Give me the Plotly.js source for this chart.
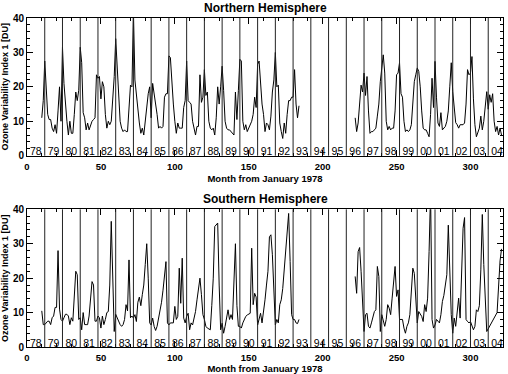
<!DOCTYPE html>
<html><head><meta charset="utf-8">
<script src="https://cdn.plot.ly/plotly-3.0.1.min.js"></script>
<style>html,body{margin:0;padding:0;background:#fff}#chart{width:508px;height:374px}</style>
</head><body><div id="chart"></div>
<script>
// Year labels (inside the plots) and their start months
const yearLabels = ['78','79','80','81','82','83','84','85','86','87','88','89','90','91','92','93','94','95','96','97','98','99','00','01','02','03','04'];
const yearStartMonths = [0,12,24,36,48,60,72,84,96,108,120,132,144,156,168,180,192,204,216,228,240,252,264,276,288,300,312];

// Northern Hemisphere, segment 1 (TOMS Nimbus-7), starts at month 10
const nhStart1 = 10;
const nhValues1 = [11,16,27.5,20,12,10.5,10.5,8,7,9,6.5,13,20,10,
31.5,21,14,10,6,10,6.5,6.5,12,18.5,16,19,
31.5,27,12.5,11,7.5,9.5,7.5,9,10,10.5,11,23.5,
22.5,23,16.5,21.5,20,12,8,10,9,10,17,23,
34,25,15,10,8,7,7.5,7,7,15,20.5,20,
42,22,17.5,12.5,9.5,6.5,8,6,10,15,18,20,
11,21,18,16.5,12,8,8.5,8,8.5,17,18,18,
29,28.5,20,15,10,6.5,9.5,8,8,8,14,16,
27.5,16,15.5,15,10,8,6,8.5,8.5,23.5,15.5,17,
25,17.5,18.5,10,8,7.5,8,6,11,20,15,20,
26,19,10,8,7.5,7.5,7,6.5,6,18.5,10.5,19,
28,27.5,10,7.5,9,7,8,9,10,12,17,14,
26.5,27.5,21,15,12,7,9.5,9,7.5,11.5,18.5,22,
30,20,20.5,9.5,7,5,9.5,6.5,12,16,16,17,
17,25,15,11,14.5];
// Northern Hemisphere, segment 2 (Earth Probe TOMS), starts at month 222
const nhStart2 = 222;
const nhValues2 = [11,7,9.5,15,20.5,18.5,
24,17.5,23,13,6.5,7,7,7.5,8,11.5,15,21.5,
26,29.3,24,10,7.5,8.5,7.5,8,8,13,23.5,24,
27,18,17,10,7,7.5,7,7.5,9,14.5,21.5,23.5,
25.5,24.5,20,13,8,7.5,7.5,6.5,5.5,12,22.5,14,
27.4,17,9.5,8.5,12.5,7.5,8,8.5,10,13,20,27,
18.6,13,9.6,9,8,9,9,9,9.5,15,25,23.5,
24,28.8,16.5,9,5.5,6.5,8,11.5,7.5,10,14.8,18.6,
13.5,17.7,15.5,18,10,7,8.5,6,8,6];

// Southern Hemisphere, segment 1, starts at month 10
const shStart1 = 10;
const shValues1 = [10.5,6.5,
6.5,7,7.5,7.5,6.5,8.5,9,11.5,11.5,28,11,8,
7.5,8.5,9.5,9.5,9,6.5,8.5,7.5,16,22,21,8,
8.5,5,10,6.5,6.5,6.5,9,14,19,18,7.5,7.5,
9,8.5,5.5,9,6.5,8,10,10.3,18,36.5,18,4.5,
9.5,8.5,7,6.5,6,6.5,8,12.3,10.5,25.3,8.5,9,
8.4,9.4,7.4,13,14.5,12,15.2,18,24,30,20,7,
6.4,8.4,6,4.8,6,8,10.3,13,16.5,20.5,24.8,7,
6.4,7,7,7,11.8,8,8.9,22.9,12.7,25.8,8.4,7,
8.9,9.8,5,7,6.4,8,10.3,13.7,17,20,15.2,9.4,
8,6,5.5,5.2,5,12,20,35,35.5,36,18,5,
6.9,4,6,9,10.8,8,9.4,8,18.5,30,12,6,
6,5.5,7,8,8.9,9.3,9.6,9.8,28.7,12.3,15.6,14.5,
6.4,8,9.8,7,10,13.7,18,22,32,32.6,26.8,14,
6.4,8,7,12.3,13.7,17,22,28.7,33,38.8,24.8,9.4,
8,8,7,6.8,8];
// Southern Hemisphere, segment 2, months 222-311
const shStart2 = 222;
const shValues2 = [20.5,15.6,27.7,28.9,22,12,
4.5,9.4,9.8,6,5.5,7,8.4,10.3,10.8,23.4,20.5,4.5,
9.4,7.5,6,8,12.3,11.3,9.4,14.2,19,23.4,14.7,16.6,
8,8,8,5.5,4,6,7,9.4,17,22.9,21.4,15.2,
7,10.3,9.5,8.9,7.4,12.3,10.3,14.2,27.7,45,8,5.5,
6.4,8,7.5,7,9.4,13.2,15,18,21,35.4,18,9.4,
4,8.4,6,10.3,14.2,8.4,20,34.5,37.6,8,7.4,7,
7.4,6.4,5,6,10.8,10.3,12,22.4,38.5,24,11.3,4.5];
// Southern Hemisphere, segment 3, months 318-321
const shStart3 = 318;
const shValues3 = [10,18,25,28.5];

function seg(start, vals){ return {x: vals.map((v,i)=>start+i), y: vals.slice()}; }
function joinSegs(segs, connect){
  const x=[], y=[];
  segs.forEach((s,k)=>{ if(k>0 && !connect[k-1]){x.push(null);y.push(null);} x.push(...s.x); y.push(...s.y); });
  return {x,y};
}
const nh = joinSegs([seg(nhStart1,nhValues1), seg(nhStart2,nhValues2)], [false]);
const sh = joinSegs([seg(shStart1,shValues1), seg(shStart2,shValues2), seg(shStart3,shValues3)], [false,true]);

const FONT = 'Liberation Sans, Arial, Helvetica, sans-serif';
const yearMid = yearStartMonths.map(m=>m+6);
const yearLabelY = yearLabels.map(()=>0.9);

const traces = [
  {x:nh.x, y:nh.y, type:'scatter', mode:'lines', line:{color:'#000', width:1}, xaxis:'x', yaxis:'y', hoverinfo:'skip'},
  {x:sh.x, y:sh.y, type:'scatter', mode:'lines', line:{color:'#000', width:1}, xaxis:'x2', yaxis:'y2', hoverinfo:'skip'},
  {x:yearMid, y:yearLabelY, text:yearLabels, type:'scatter', mode:'text', textfont:{family:FONT, size:10.5, color:'#000'}, xaxis:'x', yaxis:'y', cliponaxis:false},
  {x:yearMid, y:yearLabelY, text:yearLabels, type:'scatter', mode:'text', textfont:{family:FONT, size:10.5, color:'#000'}, xaxis:'x2', yaxis:'y2', cliponaxis:false}
];

const shapes = [];
yearStartMonths.slice(1).forEach(m=>{
  ['y','y2'].forEach((ya,k)=>{
    shapes.push({type:'line', xref: k? 'x2':'x', yref: ya+' domain', x0:m, x1:m, y0:0, y1:1, line:{color:'#222', width:1}});
  });
});

function xAxis(anchor){
  return {anchor:anchor, range:[0,322], showline:true, linecolor:'#000', linewidth:1, mirror:'allticks',
    ticks:'inside', ticklen:6, tickcolor:'#000', tickwidth:1, tick0:0, dtick:50, showgrid:false, zeroline:false,
    ticklabelstandoff:2,
    tickfont:{family:FONT, size:9.5, weight:'bold', color:'#000'},
    minor:{ticks:'inside', dtick:10, ticklen:3, tickcolor:'#000', showgrid:false},
    title:{text:'Month from January 1978', font:{family:FONT, size:9.5, weight:'bold', color:'#000'}, standoff:4}};
}
function yAxis(anchor, domain){
  return {anchor:anchor, domain:domain, range:[0,40], showline:true, linecolor:'#000', linewidth:1, mirror:'allticks',
    ticks:'inside', ticklen:6, tickcolor:'#000', tickwidth:1, tick0:0, dtick:10, showgrid:false, zeroline:false,
    tickfont:{family:FONT, size:10, weight:'bold', color:'#000'},
    minor:{ticks:'inside', dtick:2, ticklen:3, tickcolor:'#000', showgrid:false},
    title:{text:'Ozone Variability Index 1 [DU]', font:{family:FONT, size:9, weight:'bold', color:'#000'}, standoff:2}};
}

const layout = {
  width:508, height:374, margin:{l:27, r:5, t:18, b:27}, showlegend:false,
  paper_bgcolor:'#fff', plot_bgcolor:'#fff',
  xaxis: Object.assign(xAxis('y'), {domain:[0,1]}),
  yaxis: yAxis('x', [0.5815,1]),
  xaxis2: Object.assign(xAxis('y2'), {domain:[0,1]}),
  yaxis2: yAxis('x2', [0,0.4185]),
  shapes: shapes,
  annotations: [
    {text:'Northern Hemisphere', xref:'paper', yref:'paper', x:0.5, y:1.0304, xanchor:'center', yanchor:'middle', showarrow:false, font:{family:FONT, size:12, weight:'bold', color:'#000'}},
    {text:'Southern Hemisphere', xref:'paper', yref:'paper', x:0.5, y:0.4498, xanchor:'center', yanchor:'middle', showarrow:false, font:{family:FONT, size:12, weight:'bold', color:'#000'}}
  ]
};
Plotly.newPlot('chart', traces, layout, {displayModeBar:false, staticPlot:true});
</script></body></html>
